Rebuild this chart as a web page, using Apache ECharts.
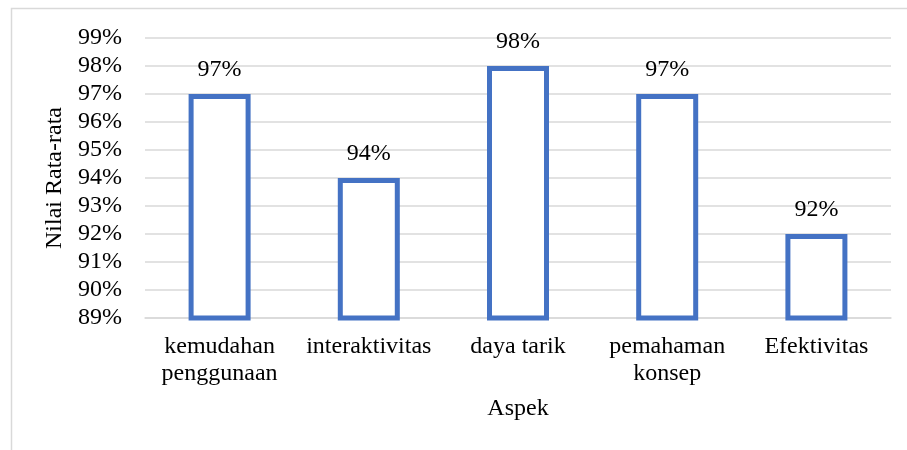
<!DOCTYPE html>
<html>
<head>
<meta charset="utf-8">
<script src="https://cdn.jsdelivr.net/npm/echarts@6/dist/echarts.min.js"></script>
<style>
  html, body { margin: 0; padding: 0; background: #fff; }
  #chart { width: 907px; height: 450px; }
</style>
</head>
<body>
<div id="chart"></div>
<script>
// data
var categories = ['kemudahan\npenggunaan', 'interaktivitas', 'daya tarik', 'pemahaman\nkonsep', 'Efektivitas'];
var values = [97, 94, 98, 97, 92];
var yMin = 89, yMax = 99, yStep = 1;

var font = 'Liberation Serif, Times New Roman, serif';
var myChart = echarts.init(document.getElementById('chart'));

myChart.setOption({
    animation: false,
    textStyle: { fontFamily: font },
    graphic: [{
        // outer frame of the chart (right and bottom cut off)
        type: 'rect',
        shape: { x: 11.5, y: 8.5, width: 1200, height: 1000 },
        style: { fill: 'none', stroke: '#d9d9d9', lineWidth: 1.5 },
        silent: true
    }],
    grid: { left: 145, right: 16, top: 38, bottom: 132 },
    xAxis: {
        type: 'category',
        data: categories,
        name: 'Aspek',
        nameLocation: 'middle',
        nameGap: 79,
        nameTextStyle: { fontFamily: font, fontSize: 24, color: '#000' },
        axisLine: { lineStyle: { color: '#d9d9d9', width: 1.5 } },
        axisTick: { show: false },
        axisLabel: { fontFamily: font, fontSize: 24, color: '#000', lineHeight: 27, margin: 15, interval: 0 }
    },
    yAxis: {
        type: 'value',
        min: yMin,
        max: yMax,
        interval: yStep,
        name: 'Nilai Rata-rata',
        nameLocation: 'middle',
        nameGap: 74,
        nameTextStyle: { fontFamily: font, fontSize: 24, color: '#000' },
        axisLine: { show: false },
        axisTick: { show: false },
        axisLabel: { fontFamily: font, fontSize: 24, color: '#000', margin: 23, formatter: '{value}%' },
        splitLine: { lineStyle: { color: '#d9d9d9', width: 1.5 } }
    },
    series: [{
        type: 'bar',
        data: values,
        barWidth: 62,
        itemStyle: { color: '#fff', borderColor: '#4472C4', borderWidth: 5 },
        label: {
            show: true,
            position: 'top',
            distance: 12,
            fontFamily: font,
            fontSize: 24,
            color: '#000',
            formatter: '{c}%'
        }
    }]
});
</script>
</body>
</html>
